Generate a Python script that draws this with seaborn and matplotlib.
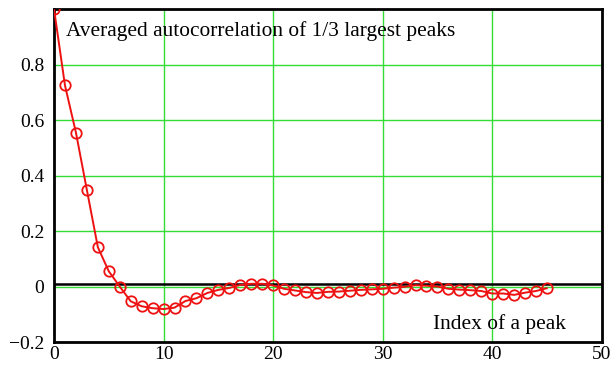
import matplotlib
matplotlib.use("Agg")
import matplotlib.pyplot as plt
import seaborn as sns
import pandas as pd

idx = list(range(46))
acf = [1.0, 0.725, 0.555, 0.348, 0.142, 0.055, 0.0, -0.053, -0.071, -0.078, -0.081,
       -0.076, -0.052, -0.042, -0.023, -0.012, -0.005, 0.006, 0.01, 0.01, 0.004,
       -0.008, -0.014, -0.02, -0.023, -0.019, -0.018, -0.015, -0.012, -0.01, -0.008,
       -0.004, -0.001, 0.005, 0.003, 0.0, -0.008, -0.011, -0.013, -0.016, -0.025,
       -0.025, -0.03, -0.022, -0.016, -0.006]
xticks = [0, 10, 20, 30, 40, 50]
yticks = [-0.2, 0, 0.2, 0.4, 0.6, 0.8]
ytick_labels = ["\u22120.2", "0", "0.2", "0.4", "0.6", "0.8"]
title_text = "Averaged autocorrelation of 1/3 largest peaks"
xlabel_text = "Index of a peak"
ref_level = 0.01

sns.set_style("white")
plt.rcParams["font.family"] = ["Liberation Serif", "DejaVu Serif"]
plt.rcParams["text.color"] = "black"
plt.rcParams["xtick.color"] = "black"
plt.rcParams["ytick.color"] = "black"

df = pd.DataFrame({"idx": idx, "acf": acf})

fig = plt.figure(figsize=(6.14, 3.67), dpi=100)
ax = fig.add_axes([0.088, 0.068, 0.892, 0.907])

for v in xticks[1:-1]:
    ax.axvline(v, color="#33dd33", lw=1.0, zorder=0)
for v in yticks[1:]:
    ax.axhline(v, color="#33dd33", lw=1.0, zorder=0)
ax.axhline(ref_level, color="black", lw=1.8, zorder=1)

sns.lineplot(data=df, x="idx", y="acf", ax=ax, color="#ee1111", lw=1.4,
             marker="o", markersize=7.5, markerfacecolor="none",
             markeredgecolor="#ee1111", markeredgewidth=1.3, clip_on=True, zorder=3)

ax.set_xlim(0, 50)
ax.set_ylim(-0.2, 1.0)
ax.set_xticks(xticks)
ax.set_xticklabels([str(t) for t in xticks])
ax.set_yticks(yticks)
ax.set_yticklabels(ytick_labels)
ax.tick_params(axis="x", length=0, labelsize=14, pad=3)
ax.tick_params(axis="y", length=0, labelsize=14, pad=7)
ax.set_xlabel("")
ax.set_ylabel("")
for s in ax.spines.values():
    s.set_color("black")
    s.set_linewidth(2.0)
    s.set_visible(True)

ax.text(0.022, 0.935, title_text, transform=ax.transAxes, fontsize=15.4,
        ha="left", va="center", color="black")
ax.text(0.934, 0.054, xlabel_text, transform=ax.transAxes, fontsize=15.4,
        ha="right", va="center", color="black")

fig.savefig("out.png", dpi=100)
